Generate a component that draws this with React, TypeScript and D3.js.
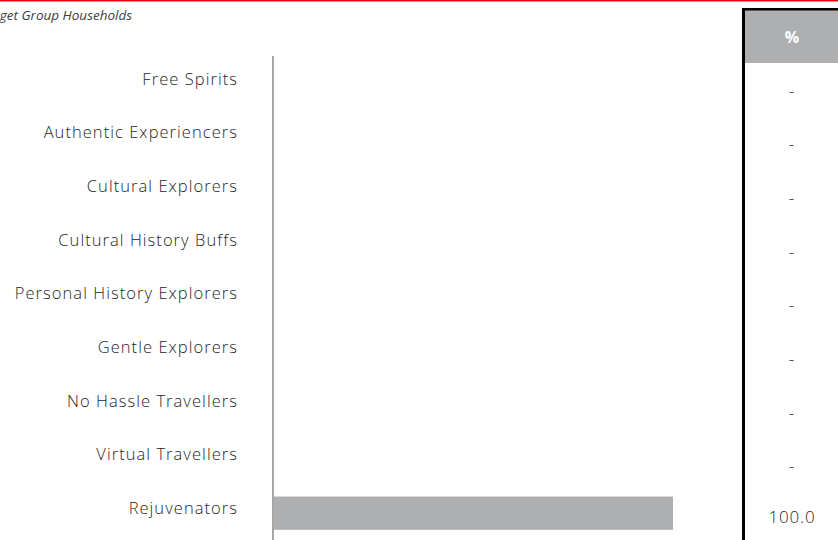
import React from 'react'
import * as d3 from 'd3'

const segments = [
  'Free Spirits',
  'Authentic Experiencers',
  'Cultural Explorers',
  'Cultural History Buffs',
  'Personal History Explorers',
  'Gentle Explorers',
  'No Hassle Travellers',
  'Virtual Travellers',
  'Rejuvenators',
]
const shares = [0, 0, 0, 0, 0, 0, 0, 0, 100]
const subtitle = 'Target Group Households'
const tableHeader = '%'

const width = 838
const height = 540
const textColor = '#262626'
const barColor = '#aeafb1'
const font = '"Open Sans", Lato, sans-serif'

export default function App() {
  const y = d3
    .scaleBand()
    .domain(segments)
    .range([57, 540])
    .paddingInner(0.38)
    .paddingOuter(0.19)
  const x = d3.scaleLinear().domain([0, 100]).range([274, 673])

  const fmt = (v) => (v === 0 ? '-' : d3.format('.1f')(v))

  return (
    <svg
      width={width}
      height={height}
      style={{ position: 'absolute', left: 0, top: 0, fontFamily: font }}
    >
      <rect x={0} y={0} width={width} height={height} fill="#fff" />
      {/* red rule at top */}
      <rect x={0} y={0} width={width} height={1.5} fill="#e30613" />
      <text x={-20} y={20} fontSize={13.5} fontStyle="italic" fill="#404040">
        {subtitle}
      </text>

      {/* category labels */}
      {segments.map((s) => (
        <text
          key={s}
          x={238}
          y={y(s) + y.bandwidth() / 2 - 5}
          dy="0.35em"
          textAnchor="end"
          fontSize={16.5}
          fontWeight={300}
          letterSpacing={1.05}
          fill={textColor}
        >
          {s}
        </text>
      ))}

      {/* bars */}
      {segments.map((s, i) => (
        <rect
          key={s}
          x={x(0)}
          y={y(s)}
          width={x(shares[i]) - x(0)}
          height={y.bandwidth()}
          fill={barColor}
        />
      ))}

      {/* axis line */}
      <line x1={273} x2={273} y1={56} y2={height} stroke="#a6a6a6" strokeWidth={2} />

      {/* side table */}
      <rect x={745} y={10} width={width - 745} height={53} fill={barColor} />
      <line x1={743.5} x2={743.5} y1={8} y2={height} stroke="#000" strokeWidth={3} />
      <line x1={742} x2={width} y1={9.3} y2={9.3} stroke="#000" strokeWidth={2.5} />
      <text
        x={792}
        y={37}
        dy="0.35em"
        textAnchor="middle"
        fontSize={16}
        fontWeight="bold"
        fill="#fff"
      >
        {tableHeader}
      </text>
      {segments.map((s, i) => (
        <text
          key={s}
          x={792}
          y={y(s) + y.bandwidth() / 2 + (shares[i] === 0 ? 7 : 4)}
          dy="0.35em"
          textAnchor="middle"
          fontSize={17}
          fontWeight={300}
          letterSpacing={0.8}
          fill={textColor}
        >
          {fmt(shares[i])}
        </text>
      ))}
    </svg>
  )
}
